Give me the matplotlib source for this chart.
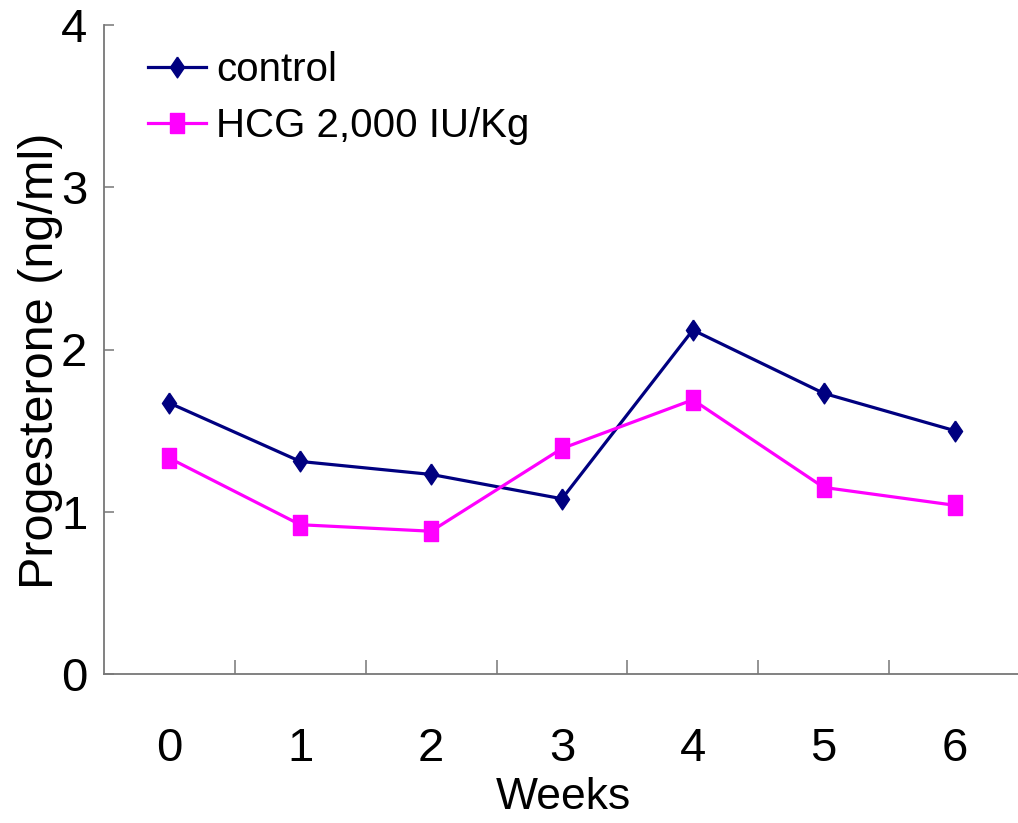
import matplotlib
matplotlib.use("Agg")
import matplotlib.pyplot as plt

plt.rcParams["font.family"] = ["Liberation Sans", "DejaVu Sans"]

weeks = [0, 1, 2, 3, 4, 5, 6]
week_labels = ["0", "1", "2", "3", "4", "5", "6"]
control = [1.67, 1.31, 1.23, 1.08, 2.12, 1.73, 1.50]
hcg = [1.33, 0.92, 0.88, 1.39, 1.69, 1.15, 1.04]

diamond = [(0, 1), (0.68, 0), (0, -1), (-0.68, 0), (0, 1)]
rect = [(-0.7, -1), (0.7, -1), (0.7, 1), (-0.7, 1), (-0.7, -1)]

fig = plt.figure(figsize=(10.18, 8.23), dpi=100)
ax = fig.add_axes([104 / 1018, 1 - 674 / 823, 916 / 1018, 649 / 823])

ax.plot(weeks, control, color="#000080", lw=2.3, marker=diamond, ms=15,
        label="control")
ax.plot(weeks, hcg, color="#FF00FF", lw=2.3, marker=rect, ms=15,
        label="HCG 2,000 IU/Kg")

ax.set_xlim(-0.5, 6.5)
ax.set_ylim(0, 4)
ax.set_yticks([0, 1, 2, 3, 4])
ax.set_xticks(weeks)
ax.set_xticklabels(week_labels)
ax.set_xticks([0.5, 1.5, 2.5, 3.5, 4.5, 5.5], minor=True)

for s in ["top", "right"]:
    ax.spines[s].set_visible(False)
for s in ["left", "bottom"]:
    ax.spines[s].set_color("#777777")
    ax.spines[s].set_linewidth(1.3)

ax.tick_params(axis="x", which="major", length=0, pad=38, labelsize=34)
ax.tick_params(axis="x", which="minor", length=10, direction="in",
               color="#777777", width=1.1)
ax.tick_params(axis="y", length=7, direction="in", color="#777777",
               width=1.1, pad=12, labelsize=34)

ax.set_xlabel("Weeks", fontsize=32)
ax.xaxis.set_label_coords(0.502, -0.208)
ax.xaxis.label.set_va("baseline")
ax.set_ylabel("Progesterone (ng/ml)", fontsize=35)
ax.yaxis.set_label_coords(-0.045, 0.482)

ax.legend(loc="upper left", bbox_to_anchor=(0.03, 0.985), frameon=False,
          prop={"size": 29}, handlelength=1.45,
          handletextpad=0.25, labelspacing=0.45, borderaxespad=0)

fig.savefig("out.png", dpi=100)
